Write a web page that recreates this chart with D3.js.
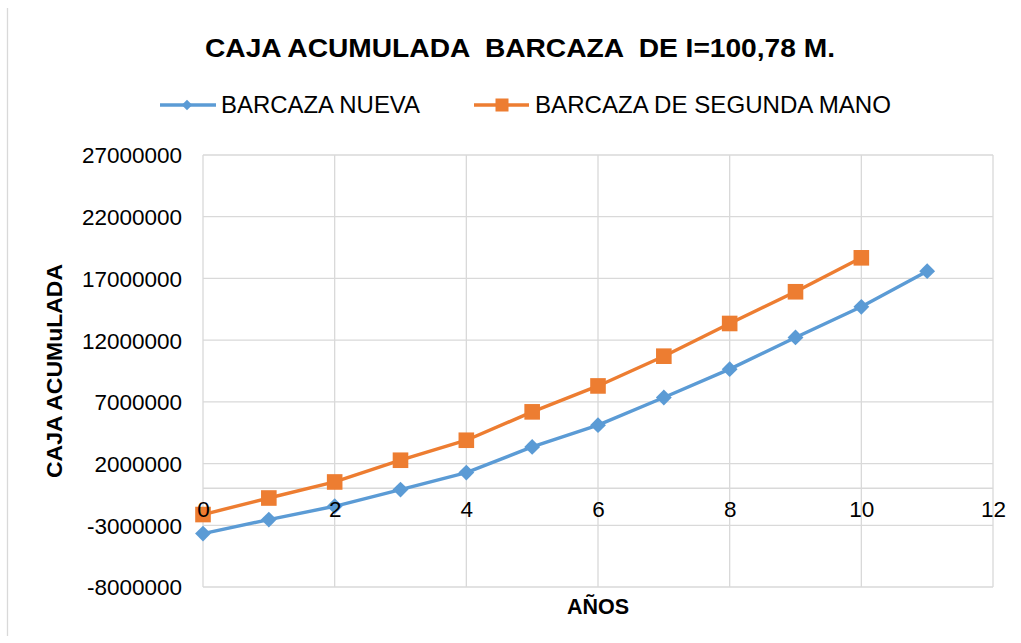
<!DOCTYPE html>
<html>
<head>
<meta charset="utf-8">
<script src="https://cdn.jsdelivr.net/npm/d3@7"></script>
<style>
  html, body { margin: 0; padding: 0; background: #ffffff; }
  svg { display: block; font-family: "Liberation Sans", Arial, sans-serif; }
</style>
</head>
<body>
<svg id="chart" width="1021" height="643"></svg>
<script>
// Cumulative cash per year for each barge option
const years = [0, 1, 2, 3, 4, 5, 6, 7, 8, 9, 10, 11];
const nuevaValues = [-3670000, -2540000, -1460000, -110000, 1270000, 3350000, 5110000, 7350000, 9650000, 12220000, 14700000, 17590000];
const segundaYears = [0, 1, 2, 3, 4, 5, 6, 7, 8, 9, 10];
const segundaValues = [-2130000, -790000, 510000, 2270000, 3890000, 6190000, 8290000, 10700000, 13350000, 15920000, 18670000];

const yTicks = [-8000000, -3000000, 2000000, 7000000, 12000000, 17000000, 22000000, 27000000];
const xTicks = [0, 2, 4, 6, 8, 10, 12];

const seriesNames = ["BARCAZA NUEVA", "BARCAZA DE SEGUNDA MANO"];
const titleText = "CAJA ACUMULADA  BARCAZA  DE I=100,78 M.";
const yTitle = "CAJA ACUMuLADA";
const xTitle = "AÑOS";

const blue = "#5b9bd5", orange = "#ed7d31", grid = "#d9d9d9";

const svg = d3.select("#chart");

const x = d3.scaleLinear().domain([0, 12]).range([203, 993]);
const y = d3.scaleLinear().domain([-8000000, 27000000]).range([587, 155]);

// outer frame edge
svg.append("line").attr("x1", 7.5).attr("x2", 7.5).attr("y1", 8).attr("y2", 636)
  .attr("stroke", grid).attr("stroke-width", 1.3);

// gridlines
const g = svg.append("g");
g.selectAll(".hg").data(yTicks).join("line")
  .attr("x1", x(0)).attr("x2", x(12))
  .attr("y1", d => y(d)).attr("y2", d => y(d))
  .attr("stroke", grid).attr("stroke-width", 1.3);
g.selectAll(".vg").data(xTicks).join("line")
  .attr("x1", d => x(d)).attr("x2", d => x(d))
  .attr("y1", y(27000000)).attr("y2", y(-8000000))
  .attr("stroke", grid).attr("stroke-width", 1.3);
// horizontal axis at zero
g.append("line").attr("x1", x(0)).attr("x2", x(12))
  .attr("y1", y(0)).attr("y2", y(0))
  .attr("stroke", grid).attr("stroke-width", 1.3);

// plain integer labels with an ASCII hyphen for negatives
const plain = d => String(d);

// y tick labels
const yAxis = d3.axisLeft(y).tickValues(yTicks).tickSize(0).tickPadding(0).tickFormat(plain);
const yg = svg.append("g").attr("transform", "translate(182,0)").call(yAxis);
yg.select(".domain").remove();
yg.selectAll("text").attr("font-size", 22.5).attr("fill", "#000").attr("dy", "0.35em")
  .attr("font-family", "Liberation Sans, Arial, sans-serif");

// series
const line = d3.line();
function drawSeries(xs, vals, color) {
  svg.append("path")
    .attr("d", line(xs.map((d, i) => [x(d), y(vals[i])])))
    .attr("fill", "none").attr("stroke", color).attr("stroke-width", 3.4)
    .attr("stroke-linejoin", "round");
}
drawSeries(years, nuevaValues, blue);
drawSeries(segundaYears, segundaValues, orange);

const diamond = d3.symbol().type(d3.symbolDiamond2).size(160);
svg.selectAll(".dn").data(years).join("path")
  .attr("d", diamond)
  .attr("transform", (d, i) => `translate(${x(d)},${y(nuevaValues[i])})`)
  .attr("fill", blue);

svg.selectAll(".sq").data(segundaYears).join("rect")
  .attr("x", d => x(d) - 7.8).attr("y", (d, i) => y(segundaValues[i]) - 7.8)
  .attr("width", 15.6).attr("height", 15.6).attr("fill", orange);

// x tick labels, placed below the zero line
const xAxis = d3.axisBottom(x).tickValues(xTicks).tickSize(0).tickPadding(0).tickFormat(plain);
const xg = svg.append("g").attr("transform", `translate(0,${y(0) + 21})`).call(xAxis);
xg.select(".domain").remove();
xg.selectAll("text").attr("font-size", 22.5).attr("fill", "#000").attr("dy", "0.35em")
  .attr("font-family", "Liberation Sans, Arial, sans-serif");

// title
svg.append("text").attr("x", 205).attr("y", 57)
  .attr("font-size", 26.5).attr("font-weight", "bold")
  .attr("textLength", 630).attr("lengthAdjust", "spacingAndGlyphs")
  .style("white-space", "pre").attr("xml:space", "preserve")
  .text(titleText);

// legend
const leg = svg.append("g");
leg.append("line").attr("x1", 160).attr("x2", 216).attr("y1", 105).attr("y2", 105)
  .attr("stroke", blue).attr("stroke-width", 3.4);
leg.append("path").attr("d", d3.symbol().type(d3.symbolDiamond2).size(70))
  .attr("transform", "translate(187,105)").attr("fill", blue);
leg.append("text").attr("x", 221).attr("y", 113).attr("font-size", 23.2)
  .attr("textLength", 199).attr("lengthAdjust", "spacingAndGlyphs").text(seriesNames[0]);

leg.append("line").attr("x1", 474).attr("x2", 529).attr("y1", 105).attr("y2", 105)
  .attr("stroke", orange).attr("stroke-width", 3.4);
leg.append("rect").attr("x", 495.5).attr("y", 98.5).attr("width", 13).attr("height", 13)
  .attr("fill", orange);
leg.append("text").attr("x", 535).attr("y", 113).attr("font-size", 23.2)
  .attr("textLength", 356).attr("lengthAdjust", "spacingAndGlyphs").text(seriesNames[1]);

// axis titles
svg.append("text").attr("transform", "translate(62,371) rotate(-90)")
  .attr("text-anchor", "middle").attr("font-size", 21.5).attr("font-weight", "bold")
  .attr("textLength", 214).attr("lengthAdjust", "spacingAndGlyphs")
  .text(yTitle);

svg.append("text").attr("x", 598).attr("y", 614)
  .attr("text-anchor", "middle").attr("font-size", 21.5).attr("font-weight", "bold")
  .text(xTitle);
</script>
</body>
</html>
